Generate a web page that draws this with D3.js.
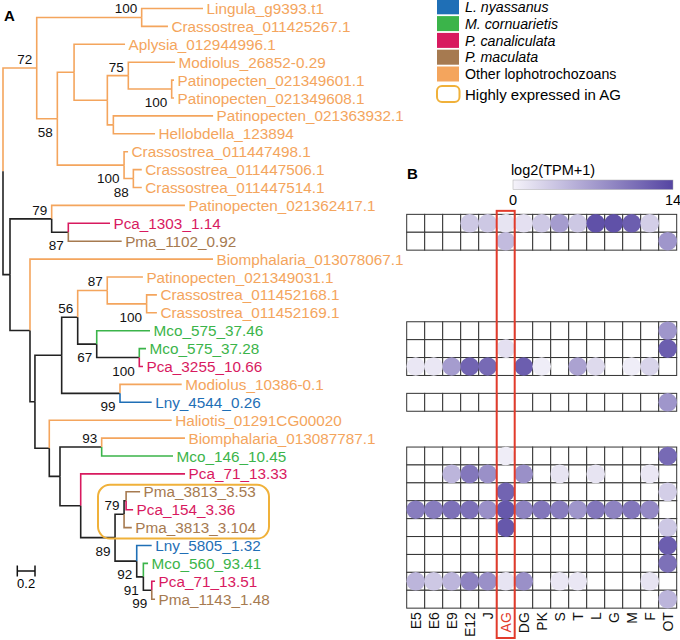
<!DOCTYPE html>
<html><head><meta charset="utf-8">
<script src="https://cdn.jsdelivr.net/npm/d3@7"></script>
<style>
body{margin:0;background:#fff;}
svg text{font-family:"Liberation Sans",Arial,Helvetica,sans-serif;}
</style></head>
<body><svg id="c" width="680" height="640"></svg>
<script>
// ---------------- DATA ----------------
const treeNewick = "(((Lingula_g9393.t1:0.693,Crassostrea_011425267.1:0.297)100:1.186,((Aplysia_012944996.1:0.576,((Modiolus_26852-0.29:0.528,(Patinopecten_021349601.1:0.026,Patinopecten_021349608.1:0.026)100:0.490)75:0.237,(Patinopecten_021363932.1:1.127,Hellobdella_123894:0.471):0.068):0.376):0.189,(Crassostrea_011447498.1:0.045,(Crassostrea_011447506.1:0.095,Crassostrea_011447514.1:0.095)88:0.105)100:0.754)58:0.233)72:0.381,((Patinopecten_021362417.1:1.506,(Pca_1303_1.14:0.471,Pma_1102_0.92:0.603)87:0.188)79:0.471,(Biomphalaria_013078067.1:2.068,((((Patinopecten_021349031.1:0.403,(Crassostrea_011452168.1:0.116,Crassostrea_011452169.1:0.116)100:0.445)87:0.334,(Mco_575_37.46:0.602,(Mco_575_37.28:0.076,Pca_3255_10.66:0.042)100:0.481)67:0.215)56:0.181,(Modiolus_10386-0.1:0.697,Lny_4544_0.26:0.358)99:0.659):0.302,(Haliotis_01291CG00020:1.383,((Biomphalaria_013087787.1:0.941,Mco_146_10.45:0.806)93:0.471,(Pca_71_13.33:1.179,(((Pma_3813_3.53:0.158,Pca_154_3.36:0.079):0.023,Pma_3813_3.104:0.087)79:0.102,(Lny_5805_1.32:0.169,(Mco_560_93.41:0.053,(Pca_71_13.51:0.037,Pma_1143_1.48:0.037)99:0.095)91:0.075)92:0.245)89:0.388):0.234):0.121):0.162):0.056):0.226):0.079);";

const speciesKeys = ["Lny", "Mco", "Pca", "Pma", "Other"];
const speciesLabels = ["L. nyassanus", "M. cornuarietis", "P. canaliculata", "P. maculata", "Other lophotrochozoans"];
const speciesColors = ["#1f6fb6", "#3bb44a", "#d81a5f", "#a67a50", "#f4a55d"];
const highlightLabel = "Highly expressed in AG";
const highlightGenes = ["Pma_3813_3.53", "Pca_154_3.36", "Pma_3813_3.104"];

const tissues = ["E5","E6","E9","E12","J","AG","DG","PK","S","T","L","G","M","F","OT"];
const heatRows = ["Pca_1303_1.14","Pma_1102_0.92","Mco_575_37.46","Mco_575_37.28","Pca_3255_10.66","Lny_4544_0.26","Mco_146_10.45","Pca_71_13.33","Pma_3813_3.53","Pca_154_3.36","Pma_3813_3.104","Lny_5805_1.32","Mco_560_93.41","Pca_71_13.51","Pma_1143_1.48"];
// log2(TPM+1), columns as in tissues
const heatValues = [
  [0,0,0,3.5,3.5,1.2,1.5,3.5,7,3.5,13,13,12,3,0],
  [0,0,0,0,0,4.5,0,0,0,0,0,0,0,0,7.5],
  [0,0,0,0,0,0,0,0,0,0,0,0,0,0,7.5],
  [0,0,0,0,0,1.5,0,0,0,0,0,0,0,0,12],
  [1,1,7,11.5,11,0,12,0.5,0,6.5,2,0,0.5,2.5,0],
  [0,0,0,0,0,0,0,0,0,0,0,0,0,0,7.5],
  [0,0,0,0,0,0.5,0,0,0,0,0,0,0,0,11],
  [0,0,5,10,8,0,8,0,1.2,0,1.2,0,0,1,0],
  [0,0,0,0,0,11.5,0,0,0,0,0,0,0,0,3],
  [9.5,9.5,10.5,10.5,8,12.5,9,10,9.5,7.5,10,9,10,8.5,0],
  [0,0,0,0,0,12.5,0,0,0,0,0,0,0,0,3.5],
  [0,0,0,0,0,0,0,0,0,0,0,0,0,0,12],
  [0,0,0,0,0,0,0,0,0,0,0,0,0,0,10.5],
  [5,3.5,5,9,8,1.2,8,0,1,1,0,0,0,1.2,0],
  [0,0,0,0,0,0,0,0,0,0,0,0,0,0,5]
];
const colorDomain = [0, 14];
const colorbarTitle = "log2(TPM+1)";
const highlightTissue = "AG";
const scaleBarValue = 0.2;

// ---------------- HELPERS ----------------
function parseNewick(s) {
  const tokens = s.split(/\s*(;|\(|\)|,|:)\s*/);
  const ancestors = [];
  let tree = {};
  for (let i = 0; i < tokens.length; i++) {
    const t = tokens[i];
    switch (t) {
      case '(': { const sub = {}; tree.children = [sub]; ancestors.push(tree); tree = sub; break; }
      case ',': { const sub = {}; ancestors[ancestors.length - 1].children.push(sub); tree = sub; break; }
      case ')': tree = ancestors.pop(); break;
      case ':': break;
      case ';': break;
      default: {
        const p = tokens[i - 1];
        if (t === '') break;
        if (p === ')' || p === '(' || p === ',') tree.name = t;
        else if (p === ':') tree.length = parseFloat(t);
      }
    }
  }
  return tree;
}
function speciesColor(name) {
  const k = speciesKeys.indexOf(name.slice(0, 3));
  return k >= 0 && k < 4 ? speciesColors[k] : speciesColors[4];
}

// ---------------- LAYOUT ----------------
const svg = d3.select("#c");
const root = d3.hierarchy(parseNewick(treeNewick));
root.each(d => { d.dist = d.parent ? d.parent.dist + (d.data.length || 0) : 0; });
const leaves = root.leaves();
const leafNames = leaves.map(d => d.data.name);

const x = d3.scaleLinear().domain([0, 1]).range([3, 91.5]);
const y = d3.scalePoint().domain(leafNames).range([8.5, 599.2]);
const step = y.step();

root.eachAfter(d => {
  if (!d.children) { d.py = y(d.data.name); d.color = speciesColor(d.data.name); }
  else {
    d.py = d3.mean(d.children, c => c.py);
    const cs = new Set(d.children.map(c => c.color));
    d.color = (cs.size === 1 && !cs.has("#222")) ? d.children[0].color : "#222";
  }
  d.px = x(d.dist);
});

// ---------------- TREE ----------------
const gTree = svg.append("g");
gTree.selectAll("path.edge").data(root.descendants().filter(d => d.parent))
  .join("path")
  .attr("fill", "none")
  .attr("stroke", d => d.color)
  .attr("stroke-width", 1.6)
  .attr("d", d => `M${d.parent.px},${d.parent.py}V${d.py}H${d.px}`);

gTree.selectAll("text.leaf").data(leaves).join("text")
  .attr("x", d => d.px + 3.5)
  .attr("y", d => d.py)
  .attr("dy", "0.36em")
  .attr("font-size", 15.3)
  .attr("fill", d => d.color)
  .text(d => d.data.name);

const internals = root.descendants().filter(d => d.children && d.data.name);
gTree.selectAll("text.bs").data(internals).join("text")
  .attr("x", d => d.px - 4.5)
  .attr("y", d => (d.parent && d.parent.children.indexOf(d) === 0) ? d.py - 4 : d.py + 18)
  .attr("text-anchor", "end")
  .attr("font-size", 13.5)
  .attr("fill", "#111")
  .text(d => d.data.name);

// highlight box
const hl = leaves.filter(d => highlightGenes.includes(d.data.name));
const hlTop = d3.min(hl, d => d.py) - 7;
const hlBot = d3.max(hl, d => d.py) + 11;
svg.append("rect")
  .attr("x", 98).attr("y", hlTop).attr("width", 171).attr("height", hlBot - hlTop)
  .attr("rx", 12).attr("fill", "none").attr("stroke", "#f0b13a").attr("stroke-width", 2);

// scale bar
const sbY = 571, sbX0 = 17.3, sbX1 = sbX0 + (x(scaleBarValue) - x(0));
const sb = svg.append("g").attr("stroke", "#111").attr("stroke-width", 1.5);
sb.append("line").attr("x1", sbX0).attr("x2", sbX1).attr("y1", sbY).attr("y2", sbY);
sb.append("line").attr("x1", sbX0).attr("x2", sbX0).attr("y1", sbY - 5.5).attr("y2", sbY + 5.5);
sb.append("line").attr("x1", sbX1).attr("x2", sbX1).attr("y1", sbY - 5.5).attr("y2", sbY + 5.5);
svg.append("text").attr("x", (sbX0 + sbX1) / 2).attr("y", sbY + 17).attr("text-anchor", "middle")
  .attr("font-size", 13).text(scaleBarValue);

// panel letters
svg.append("text").attr("x", 4).attr("y", 21).attr("font-size", 15).attr("font-weight", "bold").text("A");
svg.append("text").attr("x", 407).attr("y", 179).attr("font-size", 15).attr("font-weight", "bold").text("B");

// ---------------- LEGEND ----------------
const lg = svg.append("g");
speciesLabels.forEach((lab, i) => {
  const cy = 6.8 + i * 16.8;
  lg.append("rect").attr("x", 437).attr("y", cy - 7.5).attr("width", 22).attr("height", 15).attr("fill", speciesColors[i]);
  lg.append("text").attr("x", 465).attr("y", cy).attr("dy", "0.36em").attr("font-size", 14.2)
    .attr("font-style", i < 4 ? "italic" : "normal").text(lab);
});
lg.append("rect").attr("x", 437).attr("y", 86).attr("width", 22.5).attr("height", 16).attr("rx", 5)
  .attr("fill", "#fff").attr("stroke", "#f0b13a").attr("stroke-width", 2);
lg.append("text").attr("x", 465).attr("y", 94.5).attr("dy", "0.36em").attr("font-size", 15).text(highlightLabel);

// ---------------- HEATMAP ----------------
const hx = d3.scaleBand().domain(tissues).range([406.7, 676.7]);
const color = d3.scaleLinear().domain(colorDomain).range(["#f5f3fa", "#5545a2"]).interpolate(d3.interpolateRgb);

const cells = [];
heatRows.forEach((r, i) => tissues.forEach((t, j) => cells.push({ row: r, col: t, v: heatValues[i][j] })));

const gH = svg.append("g");
gH.selectAll("rect.cell").data(cells).join("rect")
  .attr("x", d => hx(d.col)).attr("y", d => y(d.row) - step / 2)
  .attr("width", hx.bandwidth()).attr("height", step)
  .attr("fill", "#fff").attr("stroke", "#333").attr("stroke-width", 1);
gH.selectAll("circle").data(cells.filter(d => d.v > 0)).join("circle")
  .attr("cx", d => hx(d.col) + hx.bandwidth() / 2).attr("cy", d => y(d.row))
  .attr("r", 9.3).attr("fill", d => color(d.v));

const gridBottom = y(heatRows[heatRows.length - 1]) + step / 2;
svg.append("g").selectAll("text").data(tissues).join("text")
  .attr("transform", d => `translate(${hx(d) + hx.bandwidth() / 2 + 5},${gridBottom + 4}) rotate(-90)`)
  .attr("text-anchor", "end").attr("font-size", 14)
  .attr("fill", d => d === highlightTissue ? "#e23b2b" : "#111")
  .text(d => d);

// AG highlight rectangle
svg.append("rect")
  .attr("x", hx(highlightTissue)).attr("y", y(heatRows[0]) - step / 2 - 3.5)
  .attr("width", hx.bandwidth()).attr("height", 638 - (y(heatRows[0]) - step / 2 - 3.5))
  .attr("fill", "none").attr("stroke", "#e23b2b").attr("stroke-width", 2);

// colour bar
const defs = svg.append("defs");
const grad = defs.append("linearGradient").attr("id", "cbar");
d3.range(0, 1.0001, 0.1).forEach(t => grad.append("stop").attr("offset", t).attr("stop-color", color(colorDomain[0] + t * (colorDomain[1] - colorDomain[0]))));
const cb = d3.scaleLinear().domain(colorDomain).range([513, 673]);
svg.append("rect").attr("x", cb(colorDomain[0])).attr("y", 180).attr("width", cb(colorDomain[1]) - cb(colorDomain[0])).attr("height", 9.5)
  .attr("fill", "url(#cbar)").attr("stroke", "#aaa").attr("stroke-width", 0.5);
svg.append("text").attr("x", 553).attr("y", 170).attr("dy", "0.36em").attr("text-anchor", "middle").attr("font-size", 14.5).text(colorbarTitle);
svg.append("g").selectAll("text").data(colorDomain).join("text")
  .attr("x", d => cb(d)).attr("y", 200).attr("dy", "0.36em").attr("text-anchor", "middle").attr("font-size", 14.5)
  .text(d => d);
</script></body></html>
